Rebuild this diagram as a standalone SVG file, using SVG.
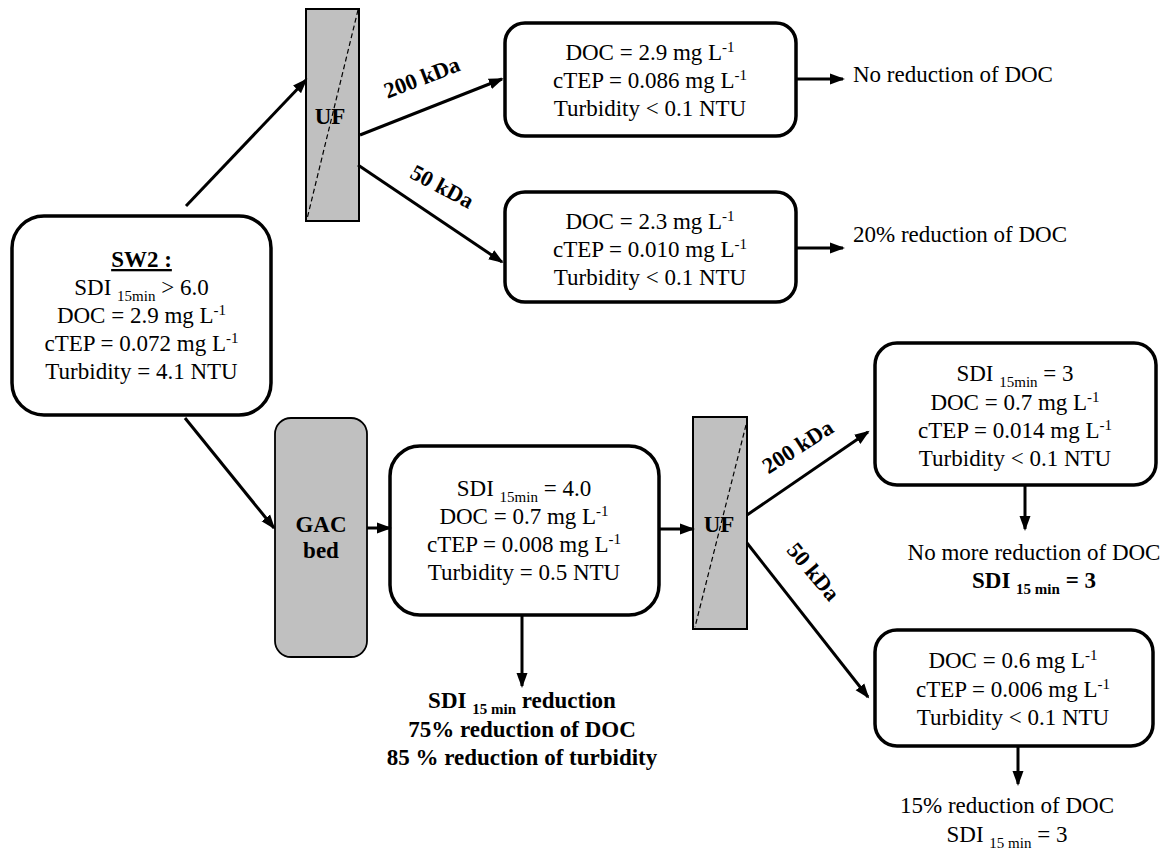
<svg xmlns="http://www.w3.org/2000/svg" width="1172" height="850" viewBox="0 0 1172 850">
<defs>
<marker id="ah" markerUnits="userSpaceOnUse" markerWidth="16" markerHeight="12" refX="13" refY="6" orient="auto">
<path d="M0,0.5 L15,6 L0,11.5 z" fill="#000"/>
</marker>
<style>
.box{fill:#fff;stroke:#000;stroke-width:3.5}
.gray{fill:#c0c0c0;stroke:#000;stroke-width:2}
.dash{fill:none;stroke:#000;stroke-width:1.2;stroke-dasharray:5,3}
.t{fill:#000;text-anchor:middle}
.l{text-anchor:start}
.b{font-weight:bold}
.lab{fill:#000;font-weight:bold;text-anchor:middle}
.s{font-size:15px}
.c line{stroke:#000;stroke-width:3;marker-end:url(#ah)}
</style>
</defs>
<rect width="1172" height="850" fill="#fff"/>
<g font-family="Liberation Serif, Times New Roman, serif" font-size="23">

<g id="sw2">
<rect class="box" x="12" y="216" width="259" height="199" rx="32"/>
<text class="t b" x="141.5" y="267" text-decoration="underline">SW2 :</text>
<text class="t" x="141.5" y="295">SDI <tspan class="s" dy="6">15min</tspan><tspan dy="-6"> &gt; 6.0</tspan></text>
<text class="t" x="141.5" y="323">DOC = 2.9 mg L<tspan class="s" dy="-8">-1</tspan></text>
<text class="t" x="141.5" y="351">cTEP = 0.072 mg L<tspan class="s" dy="-8">-1</tspan></text>
<text class="t" x="141.5" y="379">Turbidity = 4.1 NTU</text>
</g>

<g id="uf1">
<rect class="gray" x="306" y="9" width="53" height="212"/>
<line class="dash" x1="358" y1="10" x2="307" y2="219"/>
<text class="t b" x="330" y="124">UF</text>
</g>

<g id="box1">
<rect class="box" x="505" y="23" width="291" height="113" rx="20"/>
<text class="t" x="650" y="60">DOC = 2.9 mg L<tspan class="s" dy="-8">-1</tspan></text>
<text class="t" x="650" y="88">cTEP = 0.086 mg L<tspan class="s" dy="-8">-1</tspan></text>
<text class="t" x="650" y="116">Turbidity &lt; 0.1 NTU</text>
</g>

<g id="box2">
<rect class="box" x="505" y="192" width="291" height="110" rx="20"/>
<text class="t" x="650" y="229">DOC = 2.3 mg L<tspan class="s" dy="-8">-1</tspan></text>
<text class="t" x="650" y="257">cTEP = 0.010 mg L<tspan class="s" dy="-8">-1</tspan></text>
<text class="t" x="650" y="285">Turbidity &lt; 0.1 NTU</text>
</g>

<g id="out1"><text class="t l" x="853" y="82">No reduction of DOC</text></g>
<g id="out2"><text class="t l" x="853" y="242">20% reduction of DOC</text></g>

<g id="gac">
<rect class="gray" x="275" y="418" width="92" height="239" rx="16" style="stroke-width:1.8"/>
<text class="t b" x="321" y="532">GAC</text>
<text class="t b" x="321" y="558">bed</text>
</g>

<g id="box3">
<rect class="box" x="390" y="446" width="269" height="169" rx="30"/>
<text class="t" x="524" y="496">SDI <tspan class="s" dy="6">15min</tspan><tspan dy="-6"> = 4.0</tspan></text>
<text class="t" x="524" y="524">DOC = 0.7 mg L<tspan class="s" dy="-8">-1</tspan></text>
<text class="t" x="524" y="552">cTEP = 0.008 mg L<tspan class="s" dy="-8">-1</tspan></text>
<text class="t" x="524" y="580">Turbidity = 0.5 NTU</text>
</g>

<g id="out3">
<text class="t b" x="522" y="708">SDI <tspan class="s" dy="6">15 min</tspan><tspan dy="-6"> reduction</tspan></text>
<text class="t b" x="522" y="737">75% reduction of DOC</text>
<text class="t b" x="522" y="765">85 % reduction of turbidity</text>
</g>

<g id="uf2">
<rect class="gray" x="693" y="417" width="54" height="212"/>
<line class="dash" x1="746" y1="425" x2="695" y2="627"/>
<text class="t b" x="719" y="532">UF</text>
</g>

<g id="box4">
<rect class="box" x="875" y="343" width="281" height="142" rx="22"/>
<text class="t" x="1015" y="381">SDI <tspan class="s" dy="6">15min</tspan><tspan dy="-6"> = 3</tspan></text>
<text class="t" x="1015" y="410">DOC = 0.7 mg L<tspan class="s" dy="-8">-1</tspan></text>
<text class="t" x="1015" y="438">cTEP = 0.014 mg L<tspan class="s" dy="-8">-1</tspan></text>
<text class="t" x="1015" y="466">Turbidity &lt; 0.1 NTU</text>
</g>

<g id="out4">
<text class="t" x="1034" y="560">No more reduction of DOC</text>
<text class="t b" x="1034" y="588">SDI <tspan class="s" dy="6">15 min</tspan><tspan dy="-6"> = 3</tspan></text>
</g>

<g id="box5">
<rect class="box" x="875" y="630" width="278" height="116" rx="22"/>
<text class="t" x="1013" y="668">DOC = 0.6 mg L<tspan class="s" dy="-8">-1</tspan></text>
<text class="t" x="1013" y="697">cTEP = 0.006 mg L<tspan class="s" dy="-8">-1</tspan></text>
<text class="t" x="1013" y="725">Turbidity &lt; 0.1 NTU</text>
</g>

<g id="out5">
<text class="t" x="1007" y="813">15% reduction of DOC</text>
<text class="t" x="1007" y="842">SDI <tspan class="s" dy="6">15 min</tspan><tspan dy="-6"> = 3</tspan></text>
</g>

<g id="connectors" class="c">
<line x1="186" y1="206" x2="306" y2="80"/>
<line x1="360" y1="135" x2="502" y2="79"/>
<line x1="358" y1="165" x2="502" y2="262"/>
<line x1="796" y1="79" x2="843" y2="79"/>
<line x1="796" y1="248" x2="843" y2="248"/>
<line x1="185" y1="418" x2="274" y2="528"/>
<line x1="367" y1="528" x2="390" y2="528"/>
<line x1="659" y1="529" x2="693" y2="529"/>
<line x1="522" y1="615" x2="522" y2="686"/>
<line x1="747" y1="515" x2="868" y2="432"/>
<line x1="747" y1="543" x2="868" y2="697"/>
<line x1="1025" y1="485" x2="1025" y2="529"/>
<line x1="1018" y1="746" x2="1018" y2="784"/>
</g>

<g id="labels" font-size="22.5">
<text class="lab" transform="translate(422,78) rotate(-21)" y="7">200 kDa</text>
<text class="lab" transform="translate(442,187) rotate(28)" y="7">50 kDa</text>
<text class="lab" transform="translate(798,447) rotate(-33)" y="7">200 kDa</text>
<text class="lab" transform="translate(813,572) rotate(50)" y="7">50 kDa</text>
</g>
</g>
</svg>
